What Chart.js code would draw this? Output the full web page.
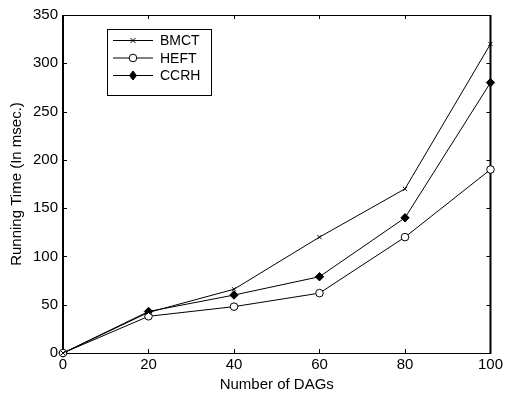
<!DOCTYPE html>
<html>
<head>
<meta charset="utf-8">
<script src="https://cdn.jsdelivr.net/npm/chart.js@4.4.1/dist/chart.umd.min.js"></script>
<style>
  body { margin: 0; background: #fff; }
  #wrap { width: 506px; height: 394px; }
</style>
</head>
<body>
<div id="wrap"><canvas id="chart" width="506" height="394"></canvas></div>
<script>
"use strict";

// values
let dags = [0, 20, 40, 60, 80, 100];
let bmct = [0, 42, 66, 120, 170, 320];
let heft = [0, 38, 48, 62, 120, 190];
let ccrh = [0, 43, 60, 79, 140, 280];
let seriesNames = ["BMCT", "HEFT", "CCRH"];

const FONT = "'Liberation Sans', Arial, sans-serif";

function toPoints(ys) {
    return dags.map((x, i) => ({ x: x, y: ys[i] }));
}

// box around the plot with MATLAB style inward ticks
const frame = {
    id: 'frame',
    beforeDatasetsDraw(chart) {
        const ctx = chart.ctx;
        const a = chart.chartArea;
        const xs = chart.scales.x, ys = chart.scales.y;
        ctx.save();
        ctx.strokeStyle = '#000';
        ctx.lineWidth = 1;
        ctx.beginPath();
        ctx.moveTo(a.left, a.top + 0.5);
        ctx.lineTo(a.right, a.top + 0.5);
        ctx.moveTo(a.left, a.bottom + 0.5);
        ctx.lineTo(a.right, a.bottom + 0.5);
        xs.ticks.forEach(t => {
            const px = Math.round(xs.getPixelForValue(t.value)) + 0.5;
            ctx.moveTo(px, a.bottom);
            ctx.lineTo(px, a.bottom - 4);
            ctx.moveTo(px, a.top);
            ctx.lineTo(px, a.top + 4);
        });
        ys.ticks.forEach(t => {
            const py = Math.round(ys.getPixelForValue(t.value)) + 0.5;
            ctx.moveTo(a.left, py);
            ctx.lineTo(a.left + 4, py);
            ctx.moveTo(a.right, py);
            ctx.lineTo(a.right - 4, py);
        });
        ctx.stroke();
        ctx.lineWidth = 2;
        ctx.beginPath();
        ctx.moveTo(a.left, a.top);
        ctx.lineTo(a.left, a.bottom + 1);
        ctx.moveTo(a.right, a.top);
        ctx.lineTo(a.right, a.bottom + 1);
        ctx.stroke();
        ctx.restore();
    }
};

function drawMarker(ctx, style, x, y) {
    ctx.beginPath();
    if (style === 'crossRot') {
        ctx.moveTo(x - 2.5, y - 2.5); ctx.lineTo(x + 2.5, y + 2.5);
        ctx.moveTo(x + 2.5, y - 2.5); ctx.lineTo(x - 2.5, y + 2.5);
        ctx.stroke();
    } else if (style === 'circle') {
        ctx.arc(x, y, 3.8, 0, Math.PI * 2);
        ctx.fillStyle = '#fff';
        ctx.fill();
        ctx.stroke();
    } else {
        ctx.moveTo(x, y - 4.5); ctx.lineTo(x + 3.5, y);
        ctx.lineTo(x, y + 4.5); ctx.lineTo(x - 3.5, y);
        ctx.closePath();
        ctx.fillStyle = '#000';
        ctx.fill();
        ctx.stroke();
    }
}

// legend box in the upper left of the axes
const boxLegend = {
    id: 'boxLegend',
    afterDraw(chart) {
        const ctx = chart.ctx;
        const a = chart.chartArea;
        const bx = a.left + 44, by = a.top + 14, bw = 104, bh = 66;
        ctx.save();
        ctx.fillStyle = '#fff';
        ctx.fillRect(bx, by, bw, bh);
        ctx.strokeStyle = '#000';
        ctx.lineWidth = 1;
        ctx.strokeRect(bx + 0.5, by + 0.5, bw, bh);
        chart.data.datasets.forEach((ds, i) => {
            const y = by + 11.5 + i * 17.5;
            ctx.strokeStyle = '#000';
            ctx.lineWidth = 1;
            ctx.beginPath();
            ctx.moveTo(bx + 6, y);
            ctx.lineTo(bx + 46, y);
            ctx.stroke();
            drawMarker(ctx, ds.pointStyle, bx + 26, y);
            ctx.fillStyle = '#000';
            ctx.font = '14px ' + FONT;
            ctx.textAlign = 'left';
            ctx.textBaseline = 'middle';
            ctx.fillText(ds.label, bx + 53, y + 1);
        });
        ctx.restore();
    }
};

const common = {
    borderColor: '#000',
    borderWidth: 1,
    pointBorderColor: '#000',
    pointBorderWidth: 1,
    tension: 0,
    clip: false
};

const data = {
    datasets: [
        Object.assign({
            label: seriesNames[0],
            data: toPoints(bmct),
            pointStyle: 'crossRot',
            pointRadius: 3,
            pointBackgroundColor: '#000'
        }, common),
        Object.assign({
            label: seriesNames[1],
            data: toPoints(heft),
            pointStyle: 'circle',
            pointRadius: 3.8,
            pointBackgroundColor: '#fff'
        }, common),
        Object.assign({
            label: seriesNames[2],
            data: toPoints(ccrh),
            pointStyle: 'rectRot',
            pointRadius: 4.2,
            pointBackgroundColor: '#000'
        }, common)
    ]
};

const config = {
    type: 'line',
    data: data,
    options: {
        responsive: false,
        animation: false,
        devicePixelRatio: 1,
        layout: { padding: { left: 0, right: 13, top: 15, bottom: 0 } },
        plugins: {
            legend: { display: false },
            tooltip: { enabled: false }
        },
        scales: {
            x: {
                type: 'linear',
                min: 0,
                max: 100,
                grid: { display: false, drawTicks: false },
                border: { display: false },
                ticks: {
                    stepSize: 20,
                    padding: 3,
                    color: '#000',
                    maxRotation: 0,
                    font: { family: FONT, size: 15 }
                },
                title: {
                    display: true,
                    text: 'Number of DAGs',
                    color: '#000',
                    padding: { top: 0, bottom: 0 },
                    font: { family: FONT, size: 15 }
                },
                afterFit(scale) { scale.height = 41; }
            },
            y: {
                min: 0,
                max: 350,
                grid: { display: false, drawTicks: false },
                border: { display: false },
                ticks: {
                    stepSize: 50,
                    padding: 5,
                    color: '#000',
                    font: { family: FONT, size: 15 }
                },
                title: {
                    display: true,
                    text: 'Running Time (In msec.)',
                    color: '#000',
                    padding: { top: 8, bottom: 0 },
                    font: { family: FONT, size: 15 }
                },
                afterFit(scale) { scale.width = 63; }
            }
        }
    },
    plugins: [frame, boxLegend]
};

const myChart = new Chart(document.getElementById('chart'), config);
</script>
</body>
</html>
